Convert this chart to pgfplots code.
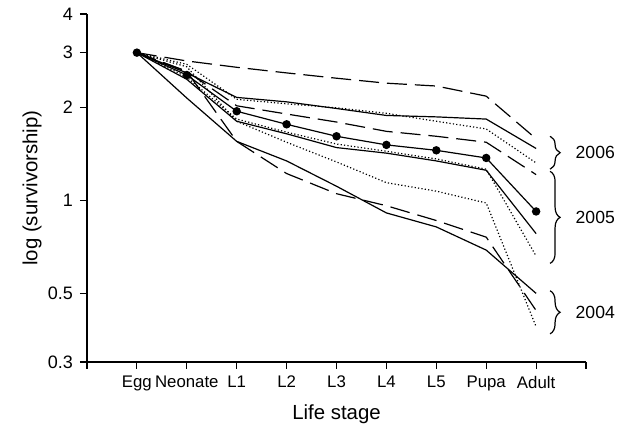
\documentclass[border=0pt]{standalone}
\usepackage{fontspec}
\setmainfont{Liberation Sans}
\usepackage{pgfplots}
\pgfplotsset{compat=1.18}
\usetikzlibrary{decorations.pathreplacing}

\begin{document}
\begin{tikzpicture}
\begin{axis}[
  scale only axis,
  width=249.5pt, height=174pt,
  ymode=log,
  xmin=0, xmax=10, ymin=0.3, ymax=4,
  axis x line=bottom, axis y line=left,
  axis line style={-, line width=0.6pt},
  tick align=outside,
  major tick length=3.5pt,
  tick style={black, line width=0.6pt},
  xtick={0,...,10},
  xticklabels={,Egg,Neonate,L1,L2,L3,L4,L5,Pupa,Adult,},
  ytick={0.3,0.5,1,2,3,4},
  yticklabels={0.3,0.5,1,2,3,4},
  yminorticks=false,
  xticklabel style={font=\fontsize{8.4}{9}\selectfont},
  yticklabel style={font=\fontsize{9}{10}\selectfont},
  xlabel={Life stage},
  ylabel={log (survivorship)},
  label style={font=\fontsize{10.2}{12}\selectfont},
  ylabel style={at={(axis description cs:-0.11,0.5)}, anchor=center},
  clip=false,
  every axis plot/.append style={black, line width=0.6pt},
]
% 2006
\addplot[black, mark=none, dash pattern=on 10pt off 4pt] coordinates {(1,3.0) (2,2.82) (3,2.69) (4,2.58) (5,2.48) (6,2.39) (7,2.34) (8,2.17) (9,1.58)};
\addplot[black, mark=none, solid] coordinates {(1,3.0) (2,2.58) (3,2.15) (4,2.08) (5,1.98) (6,1.88) (7,1.86) (8,1.83) (9,1.47)};
\addplot[black, mark=none, dash pattern=on 0.6pt off 1.1pt] coordinates {(1,3.0) (2,2.75) (3,2.12) (4,2.05) (5,1.99) (6,1.91) (7,1.80) (8,1.70) (9,1.32)};
\addplot[black, mark=none, dash pattern=on 10pt off 4pt] coordinates {(1,3.0) (2,2.61) (3,2.02) (4,1.90) (5,1.79) (6,1.67) (7,1.61) (8,1.54) (9,1.21)};
% 2005
\addplot[black, solid, mark=*, mark size=1.8pt] coordinates {(1,3.0) (2,2.54) (3,1.94) (4,1.76) (5,1.61) (6,1.51) (7,1.45) (8,1.37) (9,0.92)};
\addplot[black, mark=none, solid] coordinates {(1,3.0) (2,2.46) (3,1.80) (4,1.64) (5,1.48) (6,1.42) (7,1.34) (8,1.25) (9,0.78)};
\addplot[black, mark=none, dash pattern=on 0.6pt off 1.1pt] coordinates {(1,3.0) (2,2.50) (3,1.83) (4,1.66) (5,1.52) (6,1.44) (7,1.36) (8,1.26) (9,0.66)};
% 2004
\addplot[black, mark=none, dash pattern=on 0.6pt off 1.1pt] coordinates {(1,3.0) (2,2.70) (3,1.80) (4,1.54) (5,1.33) (6,1.14) (7,1.07) (8,0.98) (9,0.39)};
\addplot[black, mark=none, solid] coordinates {(1,3.0) (2,2.14) (3,1.55) (4,1.34) (5,1.11) (6,0.91) (7,0.82) (8,0.69) (9,0.50)};
\addplot[black, mark=none, dash pattern=on 10pt off 4pt] coordinates {(1,3.0) (2,2.61) (3,1.55) (4,1.22) (5,1.05) (6,0.96) (7,0.86) (8,0.76) (9,0.44)};

\draw[decorate, decoration={brace, amplitude=5pt}, line width=0.6pt]
  (axis cs:9.28,1.61) -- (axis cs:9.28,1.26)
  node[midway, anchor=west, inner sep=0pt, xshift=12.5pt, font=\fontsize{8.8}{10}\selectfont] {2006};
\draw[decorate, decoration={brace, amplitude=5pt}, line width=0.6pt]
  (axis cs:9.28,1.24) -- (axis cs:9.28,0.625)
  node[midway, anchor=west, inner sep=0pt, xshift=12.5pt, font=\fontsize{8.8}{10}\selectfont] {2005};
\draw[decorate, decoration={brace, amplitude=5pt}, line width=0.6pt]
  (axis cs:9.28,0.51) -- (axis cs:9.28,0.37)
  node[midway, anchor=west, inner sep=0pt, xshift=12.5pt, font=\fontsize{8.8}{10}\selectfont] {2004};

\path (rel axis cs:-0.1743,-0.178) rectangle (rel axis cs:1.0741,1.0402);
\end{axis}
\end{tikzpicture}
\end{document}
